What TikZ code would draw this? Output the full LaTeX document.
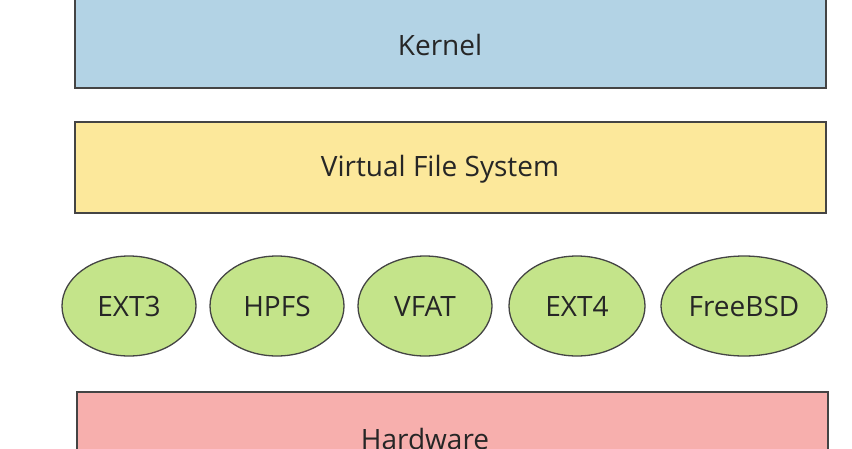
\documentclass[tikz,border=0pt]{standalone}
\usepackage{fontspec}
\setmainfont{Open Sans}
\definecolor{kblue}{HTML}{B3D3E5}
\definecolor{vyel}{HTML}{FCE89B}
\definecolor{fgreen}{HTML}{C4E48A}
\definecolor{hpink}{HTML}{F7AFAD}
\definecolor{edge}{HTML}{444444}
\begin{document}
\begin{tikzpicture}[x=1pt,y=-1pt,
  layer/.style={draw=edge,line width=1.3pt},
  lbl/.style={font=\fontsize{28}{32}\selectfont,text=black!85}]
\useasboundingbox[fill=white] (0,0) rectangle (852,448);
\filldraw[layer,fill=kblue] (75,-5) rectangle (826,88);
\node[lbl] (kernel) at (440,45) {Kernel};
\filldraw[layer,fill=vyel] (75,122) rectangle (826,213);
\node[lbl] (vfs) at (440,169) {Virtual File System};
\foreach \n/\cx/\rx/\t in {e3/129/67/EXT3,hp/277/67/HPFS,vf/425/67/VFAT,e4/577/68/EXT4,fb/744/83/FreeBSD}{
  \filldraw[layer,fill=fgreen] (\cx,306) ellipse [x radius=\rx, y radius=50];
  \node[lbl] (\n) at (\cx,306) {\t};
}
\filldraw[layer,fill=hpink] (77,392) rectangle (828,460);
\node[lbl] (hw) at (425,439) {Hardware};
\end{tikzpicture}
\end{document}
